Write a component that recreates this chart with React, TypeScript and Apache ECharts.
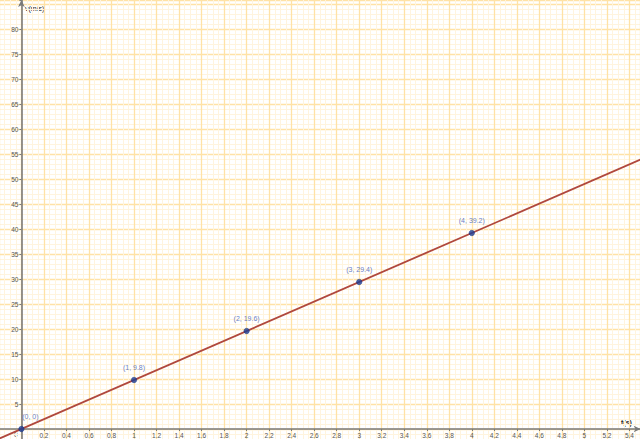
import React, { useEffect, useRef } from "react";
import * as echarts from "echarts";

const pointT = [0, 1, 2, 3, 4];
const pointV = [0, 9.8, 19.6, 29.4, 39.2];
const pointLabels = ["(0, 0)", "(1, 9.8)", "(2, 19.6)", "(3, 29.4)", "(4, 39.2)"];
const lineT = [-0.2, 5.5];
const lineV = [-1.96, 53.9];
const xAxisName = "t(s)";
const yAxisName = "v(m/s)";

const fmt = (v: number) => {
  const r = Math.round(v * 10) / 10;
  return String(r);
};

export default function App() {
  const ref = useRef<HTMLDivElement>(null);
  useEffect(() => {
    if (!ref.current) return;
    const chart = echarts.init(ref.current, null, { renderer: "svg" });
    const font = "Liberation Sans, Arial, sans-serif";
    const xUnit = 112.6;
    const yUnit = 5;
    chart.setOption({
      animation: false,
      backgroundColor: "#ffffff",
      grid: {
        left: -1.1,
        right: -0.7,
        top: 0,
        bottom: -15,
        containLabel: false,
        outerBoundsMode: "none",
      },
      xAxis: {
        type: "value",
        min: -0.2,
        max: 5.5,
        interval: 0.2,
        position: "bottom",
        offset: -5 * yUnit,
        axisLine: {
          onZero: false,
          symbol: ["none", "arrow"],
          symbolSize: [5, 7],
          lineStyle: { color: "#7a7a7a", width: 1.6 },
        },
        axisTick: { show: true, length: 2, lineStyle: { color: "#7a7a7a" } },
        axisLabel: {
          fontSize: 6.5,
          fontFamily: font,
          color: "#555",
          margin: 3,
          formatter: (v: number) => {
            const r = Math.round(v * 10) / 10;
            if (r <= 0 || r > 5.45 || Math.abs(v / 0.2 - Math.round(v / 0.2)) > 1e-6) return "";
            return fmt(v);
          },
        },
        splitLine: { show: true, lineStyle: { color: "#ffe2a6", width: 1.3 } },
        minorTick: { show: false, splitNumber: 4 },
        minorSplitLine: { show: true, lineStyle: { color: "#fff4de", width: 1 } },
      },
      yAxis: {
        type: "value",
        min: -5,
        max: 85.8,
        interval: 5,
        position: "left",
        offset: -0.2 * xUnit,
        axisLine: {
          onZero: false,
          symbol: ["none", "arrow"],
          symbolSize: [5, 7],
          lineStyle: { color: "#7a7a7a", width: 1.6 },
        },
        axisTick: { show: true, length: 2, lineStyle: { color: "#7a7a7a" } },
        axisLabel: {
          fontSize: 6.5,
          fontFamily: font,
          color: "#555",
          margin: 3,
          formatter: (v: number) => {
            if (v <= 0 || v > 82 || Math.abs(v / 5 - Math.round(v / 5)) > 1e-6) return "";
            return String(Math.round(v));
          },
        },
        splitLine: { show: true, lineStyle: { color: "#ffe2a6", width: 1.3 } },
        minorTick: { show: false, splitNumber: 5 },
        minorSplitLine: { show: true, lineStyle: { color: "#fff4de", width: 1 } },
      },
      graphic: [
        { type: "text", left: 25, top: 5, style: { text: yAxisName, fontSize: 7, fontFamily: font, fill: "#222" } },
        { type: "text", left: 621, top: 419, style: { text: xAxisName, fontSize: 7, fontFamily: font, fill: "#222", fontWeight: "bold" } },
        { type: "text", left: 14, top: 431, style: { text: "0", fontSize: 6.5, fontFamily: font, fill: "#555" } },
      ],
      series: [
        {
          type: "line",
          data: lineT.map((t, i) => [t, lineV[i]]),
          showSymbol: false,
          symbol: "none",
          lineStyle: { color: "#b0483d", width: 1.8 },
          silent: true,
          z: 3,
        },
        {
          type: "scatter",
          data: pointT.map((t, i) => ({
            value: [t, pointV[i]],
            label: i === 0 ? { offset: [9, 0] } : undefined,
          })),
          symbol: "circle",
          symbolSize: 5.5,
          itemStyle: { color: "#1b3d96", borderColor: "#0e2a78", borderWidth: 0.5 },
          label: {
            show: true,
            position: "top",
            distance: 6,
            fontSize: 7,
            fontFamily: font,
            color: "#3d5cb8",
            formatter: (p: any) => pointLabels[p.dataIndex],
          },
          z: 4,
        },
      ],
    });
    return () => chart.dispose();
  }, []);
  return <div ref={ref} style={{ width: 640, height: 439, position: "absolute", left: 0, top: 0 }} />;
}
